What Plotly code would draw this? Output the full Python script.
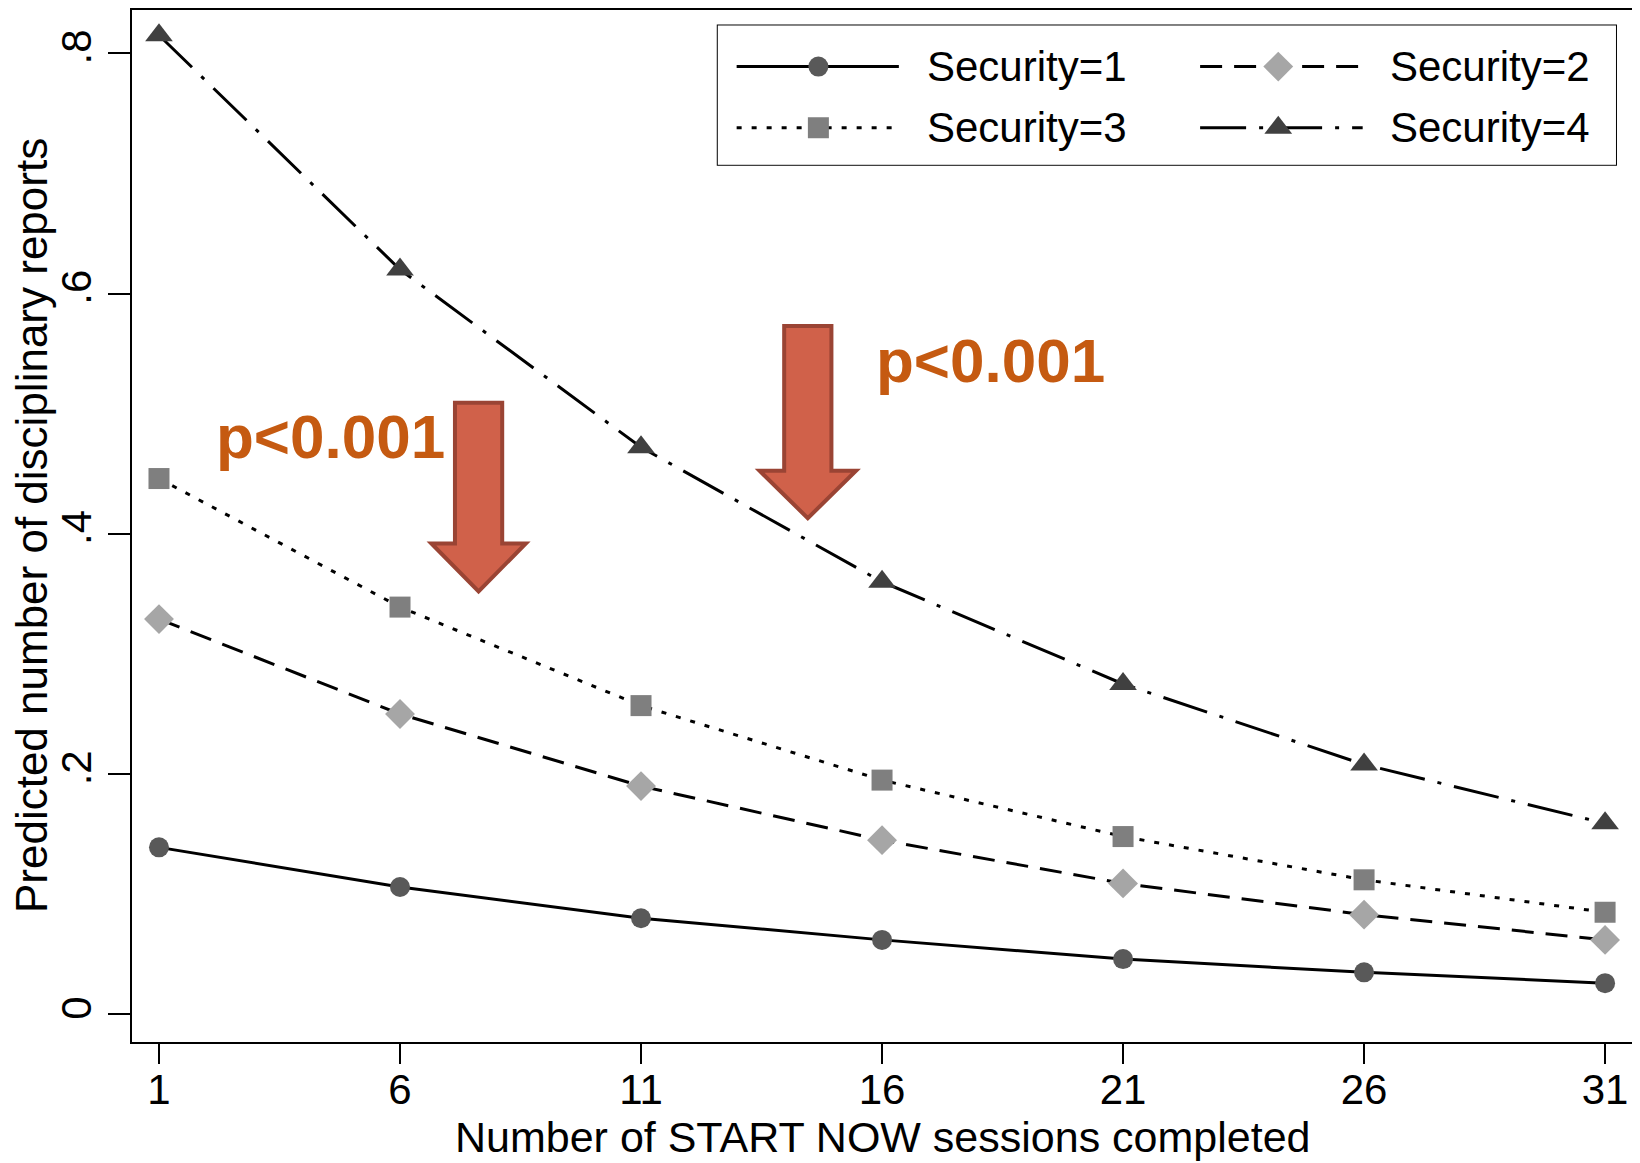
import plotly.graph_objects as go

# ---- data ----
sessions = [1, 6, 11, 16, 21, 26, 31]
security1 = [0.139, 0.106, 0.080, 0.062, 0.046, 0.035, 0.026]
security2 = [0.329, 0.250, 0.190, 0.145, 0.109, 0.083, 0.062]
security3 = [0.446, 0.339, 0.257, 0.195, 0.148, 0.112, 0.085]
security4 = [0.815, 0.620, 0.472, 0.360, 0.275, 0.208, 0.159]
series_names = ["Security=1", "Security=2", "Security=3", "Security=4"]
y_tick_vals = [0, 0.2, 0.4, 0.6, 0.8]
y_tick_text = ["0", ".2", ".4", ".6", ".8"]
p_label = "p<0.001"
x_title = "Number of START NOW sessions completed"
y_title = "Predicted number of disciplinary reports"

FONT = "Liberation Sans, Arial, sans-serif"

styles = [
    dict(dash="solid", symbol="circle", color="#595959", size=20),
    dict(dash="22px,12px", symbol="diamond", color="#a6a6a6", size=23),
    dict(dash="5px,10px", symbol="square", color="#7f7f7f", size=21),
    dict(dash="46px,13px,4px,13px", symbol="triangle-up", color="#404040", size=24),
]
values = [security1, security2, security3, security4]

fig = go.Figure()
for name, vals, st in zip(series_names, values, styles):
    fig.add_trace(go.Scatter(
        x=sessions, y=vals, mode="lines+markers", name=name, showlegend=False,
        line=dict(color="black", width=3, dash=st["dash"]),
        marker=dict(symbol=st["symbol"], color=st["color"], size=st["size"], line=dict(width=0)),
        cliponaxis=False,
    ))

# ---- custom legend drawn on a secondary axis inside a box ----
leg_x0, leg_x1, leg_y0, leg_y1 = 0.390, 0.988, 0.850, 0.985
cols = [(0.021, 0.2016, 0.112, 0.2305), (0.537, 0.718, 0.624, 0.746)]
rows = [0.705, 0.266]
for i, (name, st) in enumerate(zip(series_names, styles)):
    c = cols[i % 2]
    r = rows[i // 2]
    fig.add_trace(go.Scatter(
        x=[c[0], c[1]], y=[r, r], mode="lines", xaxis="x2", yaxis="y2", showlegend=False,
        line=dict(color="black", width=3, dash=st["dash"]), hoverinfo="skip", cliponaxis=False,
    ))
    fig.add_trace(go.Scatter(
        x=[c[2]], y=[r], mode="markers", xaxis="x2", yaxis="y2", showlegend=False,
        marker=dict(symbol=st["symbol"], color=st["color"], size=st["size"]), hoverinfo="skip",
        cliponaxis=False,
    ))
    fig.add_annotation(x=c[3], y=r, xref="x2", yref="y2", text=name, showarrow=False,
                       xanchor="left", yanchor="middle", font=dict(family=FONT, size=42, color="black"))

fig.add_shape(type="rect", xref="paper", yref="paper", x0=leg_x0, x1=leg_x1, y0=leg_y0, y1=leg_y1,
              line=dict(color="black", width=2), fillcolor="rgba(0,0,0,0)", layer="below")

# ---- arrows (x centre, shaft half width, head half width, top, head base, tip) ----
arrows = [
    dict(xc=7.63, sw=0.49, hw=0.98, top=0.509, base=0.392, tip=0.352),
    dict(xc=14.46, sw=0.49, hw=1.0, top=0.573, base=0.4525, tip=0.413),
]
for a in arrows:
    xc, sw, hw = a["xc"], a["sw"], a["hw"]
    path = (f"M {xc - sw},{a['top']} L {xc + sw},{a['top']} L {xc + sw},{a['base']} "
            f"L {xc + hw},{a['base']} L {xc},{a['tip']} L {xc - hw},{a['base']} "
            f"L {xc - sw},{a['base']} Z")
    fig.add_shape(type="path", path=path, xref="x", yref="y",
                  fillcolor="#D0614A", line=dict(color="#9A4434", width=4))

p_positions = [(4.55, 0.481), (18.26, 0.544)]
for px, py in p_positions:
    fig.add_annotation(x=px, y=py, xref="x", yref="y", text=f"<b>{p_label}</b>", showarrow=False,
                       xanchor="center", yanchor="middle",
                       font=dict(family=FONT, size=62, color="#C55A11"))

# axis titles as paper-positioned annotations
fig.add_annotation(x=0.5, y=-0.0924, xref="paper", yref="paper", text=x_title, showarrow=False,
                   xanchor="center", yanchor="middle", font=dict(family=FONT, size=43, color="black"))
fig.add_annotation(x=-0.0672, y=0.5, xref="paper", yref="paper", text=y_title, showarrow=False,
                   textangle=-90, xanchor="center", yanchor="middle",
                   font=dict(family=FONT, size=44, color="black"))

# page body has an 8px default margin: size the figure so the plot area lands where the reference has it
fig.update_layout(
    width=1632, height=1155,
    paper_bgcolor="white", plot_bgcolor="white",
    margin=dict(l=124, r=6, t=2, b=121),
    font=dict(family=FONT, size=42, color="black"),
    xaxis=dict(
        range=[0.44, 31.6], tickvals=sessions, ticks="outside", ticklen=20, tickwidth=1.5,
        tickcolor="black", showgrid=False, zeroline=False, showline=True, linewidth=2,
        linecolor="black", mirror=True, tickfont=dict(size=42), automargin=False,
        ticklabelstandoff=-10,
    ),
    yaxis=dict(
        range=[-0.023, 0.836], tickvals=y_tick_vals, ticktext=y_tick_text, tickangle=-90,
        ticks="outside", ticklen=22, tickwidth=1.5, tickcolor="black", showgrid=False,
        zeroline=False, showline=True, linewidth=2, linecolor="black", mirror=True,
        tickfont=dict(size=42), automargin=False, ticklabelstandoff=0,
    ),
    xaxis2=dict(domain=[leg_x0, leg_x1], range=[0, 1], anchor="y2", visible=False, fixedrange=True),
    yaxis2=dict(domain=[leg_y0, leg_y1], range=[0, 1], anchor="x2", visible=False, fixedrange=True),
    showlegend=False,
)

fig.write_html("out.html")
